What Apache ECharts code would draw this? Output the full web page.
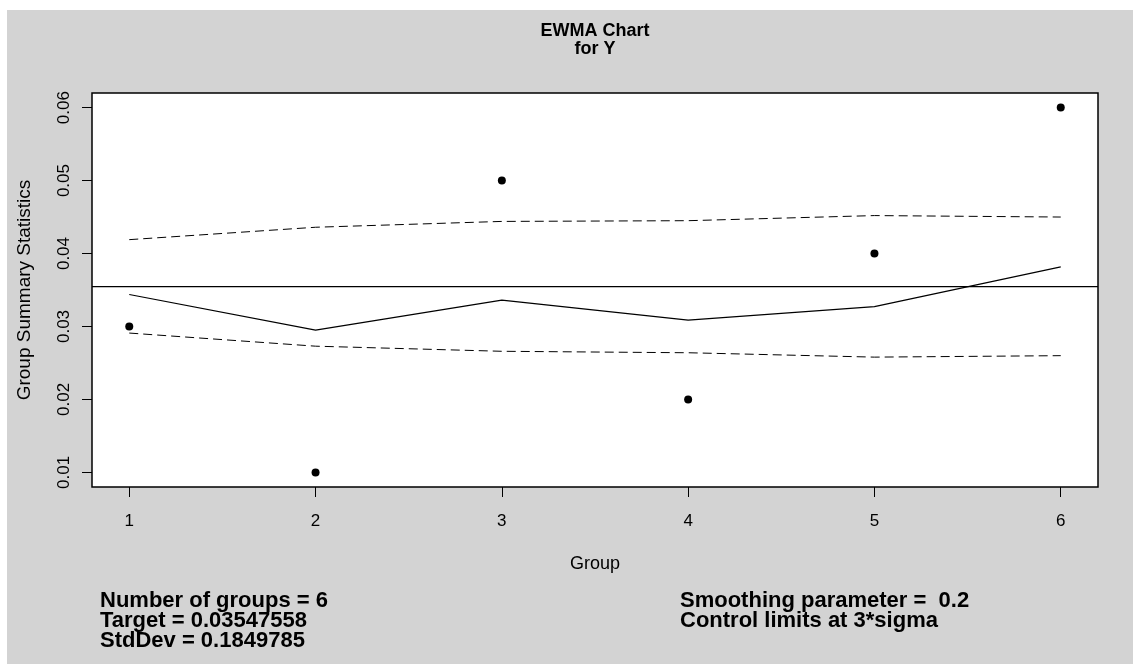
<!DOCTYPE html>
<html>
<head>
<meta charset="utf-8">
<title>EWMA Chart for Y</title>
<script src="https://cdn.jsdelivr.net/npm/echarts@6/dist/echarts.min.js"></script>
<style>
  html, body { margin: 0; padding: 0; background: #ffffff; }
  #chart { position: absolute; left: 7px; top: 10px; width: 1126px; height: 654px; }
</style>
</head>
<body>
<div id="chart"></div>
<script>
// Group numbers and the summary statistic of each group
const groups = [1, 2, 3, 4, 5, 6];
const groupStats = [0.03, 0.01, 0.05, 0.02, 0.04, 0.06];
// Exponentially weighted moving average at each group
const ewmaValues = [0.03438, 0.02950, 0.03360, 0.03088, 0.03271, 0.03817];
// Upper and lower control limits at each group
const upperLimits = [0.0419, 0.0436, 0.0444, 0.0445, 0.0452, 0.0450];
const lowerLimits = [0.0291, 0.0273, 0.0266, 0.0264, 0.0258, 0.0260];
const target = 0.03547558;
// Axis ranges and tick positions
const xRange = [0.8, 6.2];
const yRange = [0.008, 0.062];
const xTicks = [1, 2, 3, 4, 5, 6];
const yTicks = [0.01, 0.02, 0.03, 0.04, 0.05, 0.06];
// Summary text under the plot
const leftNotes = ['Number of groups = 6', 'Target = 0.03547558', 'StdDev = 0.1849785'];
const rightNotes = ['Smoothing parameter =  0.2', 'Control limits at 3*sigma'];

const FONT = '"Liberation Sans", Arial, Helvetica, sans-serif';
const pair = (vals) => groups.map((g, i) => [g, vals[i]]);

const chart = echarts.init(document.getElementById('chart'), null, { renderer: 'canvas' });

chart.setOption({
  animation: false,
  backgroundColor: '#d3d3d3',
  textStyle: { fontFamily: FONT, color: '#000' },
  title: {
    text: 'EWMA Chart\nfor Y',
    left: 583,
    top: 7,
    textAlign: 'center',
    textStyle: { fontFamily: FONT, fontSize: 18, fontWeight: 'bold', color: '#000', lineHeight: 18 }
  },
  grid: {
    left: 85, top: 83, right: 35, bottom: 177,
    show: true, backgroundColor: '#ffffff', borderColor: '#000', borderWidth: 1.5
  },
  xAxis: {
    type: 'value',
    min: xRange[0], max: xRange[1],
    name: 'Group',
    nameLocation: 'middle',
    nameGap: 68,
    nameTextStyle: { fontFamily: FONT, fontSize: 18, color: '#000' },
    splitLine: { show: false },
    axisLine: { show: false },
    axisTick: { show: true, length: 10, customValues: xTicks, lineStyle: { color: '#000', width: 1 } },
    axisLabel: { customValues: xTicks, margin: 26, fontFamily: FONT, fontSize: 17, color: '#000' }
  },
  yAxis: {
    type: 'value',
    min: yRange[0], max: yRange[1],
    name: 'Group Summary Statistics',
    nameLocation: 'middle',
    nameGap: 58,
    nameTextStyle: { fontFamily: FONT, fontSize: 19, color: '#000' },
    splitLine: { show: false },
    axisLine: { show: false },
    axisTick: { show: true, length: 10, customValues: yTicks, lineStyle: { color: '#000', width: 1 } },
    axisLabel: {
      customValues: yTicks, rotate: 90, margin: 19,
      fontFamily: FONT, fontSize: 17, color: '#000',
      formatter: (v) => v.toFixed(2)
    }
  },
  series: [
    {
      name: 'Target',
      type: 'line',
      data: [[xRange[0], target], [xRange[1], target]],
      symbol: 'none',
      silent: true,
      lineStyle: { color: '#000', width: 1.2 }
    },
    {
      name: 'Upper limit',
      type: 'line',
      data: pair(upperLimits),
      symbol: 'none',
      silent: true,
      lineStyle: { color: '#000', width: 1, type: [9, 5] }
    },
    {
      name: 'Lower limit',
      type: 'line',
      data: pair(lowerLimits),
      symbol: 'none',
      silent: true,
      lineStyle: { color: '#000', width: 1, type: [9, 5] }
    },
    {
      name: 'EWMA',
      type: 'line',
      data: pair(ewmaValues),
      symbol: 'none',
      silent: true,
      lineStyle: { color: '#000', width: 1.2 }
    },
    {
      name: 'Group statistic',
      type: 'scatter',
      data: pair(groupStats),
      symbol: 'circle',
      symbolSize: 8,
      itemStyle: { color: '#000', opacity: 1 }
    }
  ],
  graphic: [
    {
      type: 'text', left: 93, top: 580,
      style: { text: leftNotes.join('\n'), font: 'bold 22px ' + FONT, lineHeight: 20, fill: '#000' }
    },
    {
      type: 'text', left: 673, top: 580,
      style: { text: rightNotes.join('\n'), font: 'bold 22px ' + FONT, lineHeight: 20, fill: '#000' }
    }
  ]
});
</script>
</body>
</html>
